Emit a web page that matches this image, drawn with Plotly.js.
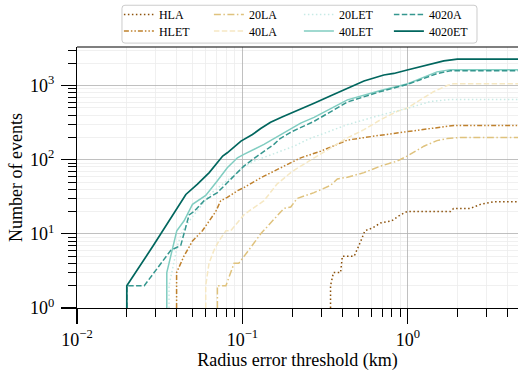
<!DOCTYPE html>
<html>
<head>
<meta charset="utf-8">
<script src="https://cdn.plot.ly/plotly-3.0.1.min.js"></script>
<style>html,body{margin:0;padding:0;background:#fff;}#chart{width:518px;height:374px;}</style>
</head>
<body>
<div id="chart"></div>
<script>
// ---- data ----
const seriesNames = ['HLA','HLET','20LA','40LA','20LET','40LET','4020A','4020ET'];

const hlaX = [0.341,0.341,0.355,0.392,0.402,0.474,0.52,0.55,0.61,0.684,0.80,0.90,0.99,1.81,1.89,2.38,2.75,3.28,5.0];
const hlaY = [1,2,3,3,5,5,8,11,12,14,15,18,20,20,22,22,25,27,27];

const hletX = [0.04,0.04,0.0443,0.0499,0.0573,0.0628,0.069,0.0739,0.081,0.093,0.102,0.129,0.162,0.225,0.297,0.431,0.684,0.99,1.57,1.9,5.0];
const hletY = [1,3,5,8,11,15,20,28,31,38,42,57,74,106,130,184,214,237,272,290,290];

const la20X = [0.0706,0.0706,0.0795,0.085,0.089,0.095,0.102,0.109,0.129,0.148,0.178,0.196,0.214,0.271,0.341,0.375,0.431,0.543,0.684,0.864,0.99,1.25,1.5,1.73,2.08,5.0];
const la20Y = [1,2,2,3,4,4,5,6,10,14,22,23,30,36,45,55,58,67,82,96,112,152,181,193,200,200];

const la40X = [0.06,0.06,0.0628,0.0673,0.072,0.0795,0.085,0.093,0.102,0.112,0.126,0.135,0.162,0.196,0.225,0.271,0.341,0.431,0.543,0.684,0.864,0.991,1.19,1.43,1.73,1.89,5.0];
const la40Y = [1,2,4,6,8,11,11,14,18,21,25,28,47,67,82,106,145,197,254,346,450,495,640,827,1000,1060,1060];

const let20X = [0.036,0.036,0.0405,0.0434,0.0488,0.0573,0.0644,0.0849,0.1,0.118,0.142,0.169,0.205,0.247,0.297,0.431,0.684,1.0,1.37,1.81,5.0];
const let20Y = [1,2,7,11,16,25,35,57,78,96,112,131,152,187,219,297,400,495,609,650,650];

const let40X = [0.0349,0.0349,0.0401,0.0444,0.0499,0.06,0.0706,0.081,0.0933,0.102,0.135,0.148,0.178,0.225,0.271,0.431,0.684,1.0,1.5,1.81,5.0];
const let40Y = [1,3,11,15,25,33,52,78,106,118,161,182,230,312,372,642,860,1060,1530,1640,1640];

const a4020X = [0.02,0.02,0.0255,0.0369,0.0424,0.0476,0.051,0.0587,0.0706,0.102,0.123,0.155,0.169,0.2,0.271,0.431,0.684,1.0,1.5,1.81,5.0];
const a4020Y = [1,2,2,6,7,18,20,28,36,82,112,161,193,240,329,600,830,1040,1450,1580,1580];

const et4020X = [0.02,0.02,0.029,0.0455,0.0535,0.063,0.076,0.081,0.098,0.115,0.129,0.148,0.175,0.225,0.271,0.35,0.431,0.543,0.716,0.823,0.991,1.3,1.65,1.99,5.0];
const et4020Y = [1,2,7,34,47,67,112,124,178,219,263,319,380,481,578,748,918,1152,1387,1456,1619,1880,2153,2270,2270];

const xTickVals = [0.01,0.1,1];
const xTickText = ['10<sup>\u22122</sup>','10<sup>\u22121</sup>','10<sup>0</sup>'];
const yTickVals = [1,10,100,1000];
const yTickText = ['10<sup>0</sup>','10<sup>1</sup>','10<sup>2</sup>','10<sup>3</sup>'];

// ---- styles ----
const colors = ['#8c510a','#bf812d','#dfc27d','#f6e8c3','#c7eae5','#80cdc1','#35978f','#01665e'];
const dashes = ['1.5px,2.5px','5px,2px,1.5px,2px,1.5px,2px','7px,2.5px,1.5px,2.5px','5.5px,2.4px','1.5px,2.5px','solid','5.5px,2.4px','solid'];
const legendOf = ['legend','legend2','legend','legend2','legend','legend2','legend','legend2'];
const ranks = [1,1,2,2,3,3,4,4];
const xs = [hlaX,hletX,la20X,la40X,let20X,let40X,a4020X,et4020X];
const ys = [hlaY,hletY,la20Y,la40Y,let20Y,let40Y,a4020Y,et4020Y];

const traces = seriesNames.map((n,i)=>({
  type:'scatter', mode:'lines', name:n, x:xs[i], y:ys[i],
  line:{color:colors[i], width:(i===7?1.7:1.5), dash:dashes[i]},
  legend:legendOf[i], legendrank:ranks[i]
}));

function minorVals(lo,hi){const v=[];for(let k=lo;k<=hi;k++){for(let d=2;d<=9;d++){v.push(d*Math.pow(10,k));}}return v;}

const axisCommon = {
  type:'log', ticks:'outside', ticklen:15, tickwidth:1.2, tickcolor:'#000',
  showline:true, linecolor:'#000', linewidth:1.2, zeroline:false,
  showgrid:true, gridcolor:'#b0b0b0', gridwidth:0.8,
  tickfont:{size:18, color:'#000'}
};

const legendCommon = {orientation:'h', x:0.095, xanchor:'left', yanchor:'middle',
  bgcolor:'rgba(0,0,0,0)', borderwidth:0, font:{size:12, color:'#000'},
  entrywidth:45, entrywidthmode:'pixels', itemwidth:30, traceorder:'normal'};

// legend frame (paper coordinates, rounded corners)
const fx0 = 0.102, fx1 = 0.907, fy0 = 1.015, fy1 = 1.160, rx = 3/441, ry = 3/263;
const framePath = `M ${fx0+rx},${fy1} L ${fx1-rx},${fy1} Q ${fx1},${fy1} ${fx1},${fy1-ry} L ${fx1},${fy0+ry} Q ${fx1},${fy0} ${fx1-rx},${fy0} L ${fx0+rx},${fy0} Q ${fx0},${fy0} ${fx0},${fy0+ry} L ${fx0},${fy1-ry} Q ${fx0},${fy1} ${fx0+rx},${fy1} Z`;

const layout = {
  width:518, height:374,
  margin:{l:77, r:0, t:45, b:66},
  paper_bgcolor:'#fff', plot_bgcolor:'#fff',
  font:{family:'"Liberation Serif", "DejaVu Serif", serif', size:17, color:'#000'},
  showlegend:true,
  xaxis:Object.assign({}, axisCommon, {
    range:[-2,0.666], tickmode:'array', tickvals:xTickVals, ticktext:xTickText,
    minor:{tickmode:'array', tickvals:minorVals(-2,0), ticks:'outside', ticklen:8, tickwidth:1, tickcolor:'#000', showgrid:true, gridcolor:'#ececec', gridwidth:0.8},
    title:{text:'Radius error threshold (km)', font:{size:18}, standoff:3}
  }),
  yaxis:Object.assign({}, axisCommon, {
    range:[0,3.52], tickmode:'array', tickvals:yTickVals, ticktext:yTickText,
    ticklabelstandoff:3,
    minor:{tickmode:'array', tickvals:minorVals(0,3), ticks:'outside', ticklen:8, tickwidth:1, tickcolor:'#000', showgrid:true, gridcolor:'#ececec', gridwidth:0.8},
    title:{text:'Number of events', font:{size:18}, standoff:2}
  }),
  legend:Object.assign({}, legendCommon, {y:(308-12)/263}),
  legend2:Object.assign({}, legendCommon, {y:(308-29)/263}),
  shapes:[
    {type:'line', xref:'paper', yref:'paper', x0:0, x1:1, y0:1, y1:1, line:{color:'#000', width:1.2}},
    {type:'path', xref:'paper', yref:'paper', path:framePath, fillcolor:'#fff', line:{color:'#cccccc', width:1}, layer:'above'}
  ]
};

Plotly.newPlot('chart', traces, layout, {displayModeBar:false, staticPlot:true});
</script>
</body>
</html>
